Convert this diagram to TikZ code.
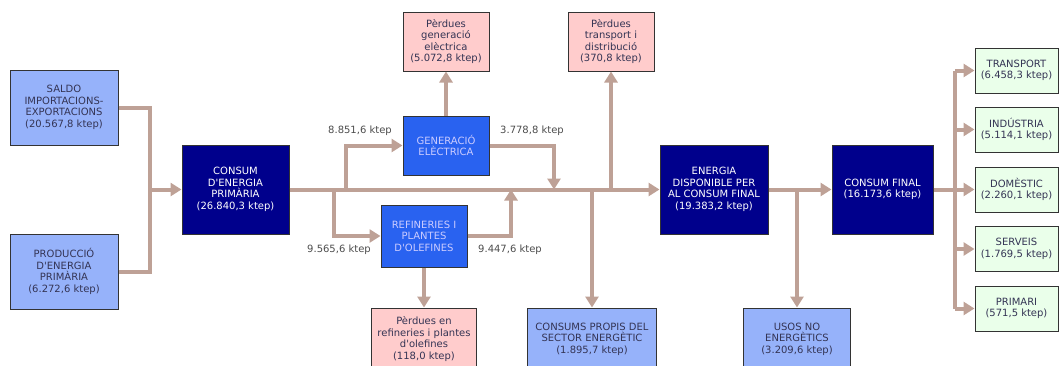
\documentclass[tikz,border=0pt]{standalone}
\usepackage{fontspec}
\setmainfont{DejaVu Sans}[Ligatures=TeXOff]
\usepackage{xcolor}
\definecolor{navy}{RGB}{0, 0, 140}
\definecolor{midblue}{RGB}{41, 98, 240}
\definecolor{paleblue}{RGB}{150, 178, 250}
\definecolor{palepink}{RGB}{255, 204, 204}
\definecolor{palegreen}{RGB}{234, 255, 234}
\definecolor{flowcolor}{RGB}{190, 161, 150}
\definecolor{boxtext}{RGB}{52, 52, 84}
\usepackage{tikz}
\usetikzlibrary{arrows.meta}
\tikzstyle{box} = [shape=rectangle, draw=black!80, line width=1pt, align=center, inner sep=2pt, font=\fontsize{10}{11.6}\selectfont]
\tikzstyle{primary} = [box, fill=navy, text=white]
\tikzstyle{process} = [box, fill=midblue, text=white!80!blue]
\tikzstyle{source} = [box, fill=paleblue, text=boxtext]
\tikzstyle{loss} = [box, fill=palepink, text=boxtext]
\tikzstyle{sector} = [box, fill=palegreen, text=boxtext, minimum width=83pt, minimum height=45pt]
\tikzstyle{flow} = [draw=flowcolor, line width=4pt]
\tikzstyle{flowarrow} = [flow, -{Triangle[width=13pt,length=11pt]}]
\tikzstyle{amount} = [text=black!70, font=\fontsize{10}{11.6}\selectfont]

\begin{document}
\begin{tikzpicture}[x=1pt, y=-1pt]
  \clip (0,0) rectangle (1061,365);
  % inputs and primary energy
  \node[source, minimum width=108pt, minimum height=75pt] (saldo) at (64,107.5) {SALDO\\IMPORTACIONS-\\EXPORTACIONS\\(20.567,8 ktep)};
  \node[source, minimum width=108pt, minimum height=75pt] (prod) at (64,271.5) {PRODUCCIÓ\\D'ENERGIA\\PRIMÀRIA\\(6.272,6 ktep)};
  \node[primary, minimum width=107pt, minimum height=89pt] (primary) at (235.5,189.5) {CONSUM\\D'ENERGIA\\PRIMÀRIA\\(26.840,3 ktep)};
  % transformation
  \node[process, minimum width=86pt, minimum height=59pt] (gen) at (446,145.5) {GENERACIÓ\\ELÈCTRICA};
  \node[process, minimum width=86pt, minimum height=62pt] (ref) at (424,236) {REFINERIES I\\PLANTES\\D'OLEFINES};
  \node[loss, minimum width=86pt, minimum height=59pt] (lossgen) at (446,41.5) {Pèrdues\\generació\\elèctrica\\(5.072,8 ktep)};
  \node[loss, minimum width=86pt, minimum height=59pt] (losstra) at (611,41.5) {Pèrdues\\transport i\\distribució\\(370,8 ktep)};
  \node[loss, minimum width=105pt, minimum height=62pt] (lossref) at (424,339) {Pèrdues en\\refineries i plantes\\d'olefines\\(118,0 ktep)};
  \node[source, minimum width=129pt, minimum height=62pt] (own) at (592,339) {CONSUMS PROPIS DEL\\SECTOR ENERGÈTIC\\(1.895,7 ktep)};
  % final energy
  \node[primary, minimum width=108pt, minimum height=89pt] (avail) at (714,189.5) {ENERGIA\\DISPONIBLE PER\\AL CONSUM FINAL\\(19.383,2 ktep)};
  \node[source, minimum width=107pt, minimum height=62pt] (nonen) at (797,339) {USOS NO\\ENERGÈTICS\\(3.209,6 ktep)};
  \node[primary, minimum width=101pt, minimum height=89pt] (final) at (882.5,189.5) {CONSUM FINAL\\(16.173,6 ktep)};
  \node[sector] (tra) at (1016.5,70.5) {TRANSPORT\\(6.458,3 ktep)};
  \node[sector] (ind) at (1016.5,129.5) {INDÚSTRIA\\(5.114,1 ktep)};
  \node[sector] (dom) at (1016.5,189.5) {DOMÈSTIC\\(2.260,1 ktep)};
  \node[sector] (ser) at (1016.5,249) {SERVEIS\\(1.769,5 ktep)};
  \node[sector] (pri) at (1016.5,308.5) {PRIMARI\\(571,5 ktep)};

  % junctions on the flow lines
  \coordinate (in) at (150,189.5);
  \coordinate (togen) at (346,189.5);
  \coordinate (toref) at (334,189.5);
  \coordinate (fromref) at (511,189.5);
  \coordinate (fromgen) at (554,189.5);
  \coordinate (toown) at (592,189.5);
  \coordinate (totra) at (611,189.5);
  \coordinate (tononen) at (797,189.5);
  \coordinate (out) at (955,189.5);

  \draw[flow] (saldo) -| (in);
  \draw[flow] (prod) -| (in);
  \draw[flowarrow] (in) -- (primary);
  \draw[flowarrow] (primary) -- (avail);
  \draw[flowarrow] (togen) |- (gen);
  \draw[flowarrow] (toref) |- (ref);
  \draw[flowarrow] (gen) -| (fromgen);
  \draw[flowarrow] (ref) -| (fromref);
  \draw[flowarrow] (gen) -- (lossgen);
  \draw[flowarrow] (ref) -- (lossref);
  \draw[flowarrow] (totra) -- (losstra);
  \draw[flowarrow] (toown) -- (own);
  \draw[flowarrow] (avail) -- (final);
  \draw[flowarrow] (tononen) -- (nonen);
  \draw[flow] (final) -- (out);
  \draw[flow] (out |- tra) -- (out |- pri);
  \foreach \s in {tra, ind, dom, ser, pri}
    \draw[flowarrow] (out |- \s) -- (\s);

  \node[amount] (a1) at (360,131) {8.851,6 ktep};
  \node[amount] (a2) at (532,131) {3.778,8 ktep};
  \node[amount] (a3) at (339,250) {9.565,6 ktep};
  \node[amount] (a4) at (510,250) {9.447,6 ktep};
\end{tikzpicture}
\end{document}
